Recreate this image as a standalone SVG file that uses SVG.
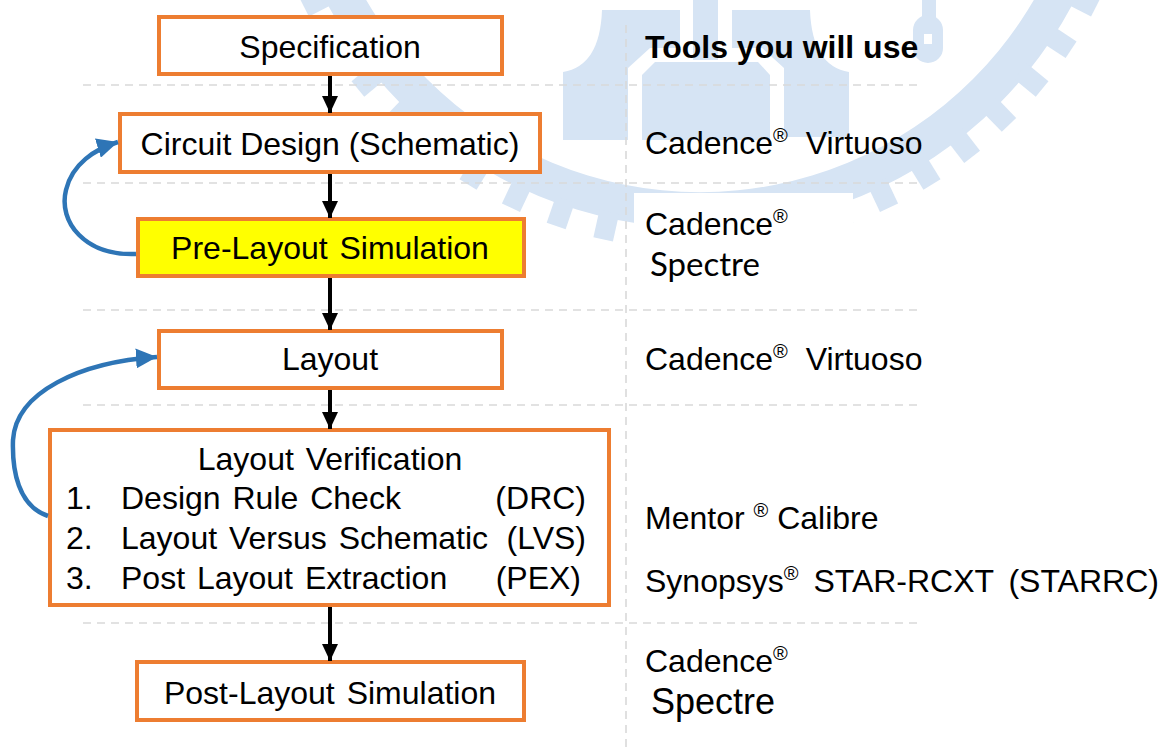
<svg xmlns="http://www.w3.org/2000/svg" width="1170" height="747" viewBox="0 0 1170 747">
  <defs>
    <style>
      .wm { fill: #d6e4f4; }
      .box { fill: #ffffff; stroke: #ed7d31; stroke-width: 4; }
      .hl { fill: #ffff00; stroke: #ed7d31; stroke-width: 4; }
      .t { font-family: "Liberation Sans", Arial, sans-serif; font-size: 32px; fill: #000; }
      .c { text-anchor: middle; }
      .ws { word-spacing: 3px; }
      .r { font-size: 20px; }
      .dash { stroke: #d9d9d9; stroke-width: 1.6; stroke-dasharray: 8 6; fill: none; }
      .flow { stroke: #000; stroke-width: 4; fill: none; }
      .fb { stroke: #2e75b6; stroke-width: 4.5; fill: none; }
    </style>
    <marker id="ah" markerUnits="userSpaceOnUse" markerWidth="18" markerHeight="16" refX="17" refY="8" orient="auto">
      <path d="M0,0 L17,8 L0,16 z" fill="#000"/>
    </marker>
    <marker id="bh" markerUnits="userSpaceOnUse" markerWidth="22" markerHeight="20" refX="21" refY="10" orient="auto">
      <path d="M0,0 L21,10 L0,20 z" fill="#2e75b6"/>
    </marker>
  </defs>
  <rect width="1170" height="747" fill="#ffffff"/>

  <!-- faint watermark logo -->
  <g id="watermark">
    <path class="wm" fill-rule="evenodd" d="M1122,-194 A422,422 0 1 1 278,-194 A422,422 0 1 1 1122,-194 Z M1086,-194 A386,386 0 1 0 314,-194 A386,386 0 1 0 1086,-194 Z"/>
    <g transform="translate(700,-194)">
      <rect class="wm" x="416" y="-10" width="28" height="20" transform="rotate(14.4)"/>
      <rect class="wm" x="416" y="-10" width="28" height="20" transform="rotate(20.7)"/>
      <rect class="wm" x="416" y="-10" width="28" height="20" transform="rotate(27)"/>
      <rect class="wm" x="416" y="-10" width="28" height="20" transform="rotate(33.3)"/>
      <rect class="wm" x="416" y="-10" width="28" height="20" transform="rotate(39.6)"/>
      <rect class="wm" x="416" y="-10" width="28" height="20" transform="rotate(45.9)"/>
      <rect class="wm" x="416" y="-10" width="28" height="20" transform="rotate(52.2)"/>
      <rect class="wm" x="416" y="-10" width="28" height="20" transform="rotate(58.5)"/>
      <rect class="wm" x="416" y="-10" width="28" height="20" transform="rotate(64.8)"/>
      <rect class="wm" x="416" y="-10" width="28" height="20" transform="rotate(71.1)"/>
      <rect class="wm" x="416" y="-10" width="28" height="20" transform="rotate(77.4)"/>
      <rect class="wm" x="416" y="-10" width="28" height="20" transform="rotate(83.7)"/>
      <rect class="wm" x="416" y="-10" width="28" height="20" transform="rotate(90)"/>
      <rect class="wm" x="416" y="-10" width="28" height="20" transform="rotate(96.3)"/>
      <rect class="wm" x="416" y="-10" width="28" height="20" transform="rotate(102.6)"/>
      <rect class="wm" x="416" y="-10" width="28" height="20" transform="rotate(108.9)"/>
      <rect class="wm" x="416" y="-10" width="28" height="20" transform="rotate(115.2)"/>
      <rect class="wm" x="416" y="-10" width="28" height="20" transform="rotate(121.5)"/>
      <rect class="wm" x="416" y="-10" width="28" height="20" transform="rotate(127.8)"/>
      <rect class="wm" x="416" y="-10" width="28" height="20" transform="rotate(134.1)"/>
      <rect class="wm" x="416" y="-10" width="28" height="20" transform="rotate(140.4)"/>
      <rect class="wm" x="416" y="-10" width="28" height="20" transform="rotate(146.7)"/>
      <rect class="wm" x="416" y="-10" width="28" height="20" transform="rotate(153)"/>
      <rect class="wm" x="416" y="-10" width="28" height="20" transform="rotate(159.3)"/>
      <rect class="wm" x="416" y="-10" width="28" height="20" transform="rotate(165.6)"/>
    </g>
    <path class="wm" d="M602,10 L680,10 L680,48 L650,48 L628,68 L628,140 L563,140 L563,72 Q600,66 602,10 Z"/>
    <path class="wm" d="M810,10 L732,10 L732,48 L762,48 L784,68 L784,137 L849,137 L849,72 Q812,66 810,10 Z"/>
    <rect class="wm" x="693" y="0" width="25" height="60"/>
    <path class="wm" d="M655,62 L758,62 L770,75 L770,140 L642,140 L642,75 Z"/>
    <rect class="wm" x="922" y="0" width="14" height="20"/>
    <path class="wm" fill-rule="evenodd" d="M913,30 A15,15 0 0 1 943,30 L943,48 A15,15 0 0 1 913,48 Z M924,34 L932,34 L932,44 L924,44 Z"/>
    <rect x="634" y="193" width="219" height="115" fill="#ffffff"/>
  </g>

  <!-- dashed guide lines -->
  <g id="guides">
    <line class="dash" x1="83" y1="85" x2="920" y2="85"/>
    <line class="dash" x1="83" y1="183" x2="920" y2="183"/>
    <line class="dash" x1="83" y1="310" x2="920" y2="310"/>
    <line class="dash" x1="83" y1="405" x2="920" y2="405"/>
    <line class="dash" x1="83" y1="623" x2="920" y2="623"/>
    <line class="dash" x1="626" y1="25" x2="626" y2="747"/>
  </g>

  <g id="spec">
    <rect class="box" x="159" y="17" width="343" height="57"/>
    <text class="t c" x="330" y="58">Specification</text>
  </g>
  <g id="circuit">
    <rect class="box" x="120" y="114" width="420" height="58"/>
    <text class="t c" x="330" y="155">Circuit Design (Schematic)</text>
  </g>
  <g id="prelayout">
    <rect class="hl" x="138" y="219" width="386" height="57"/>
    <text class="t c ws" x="330" y="259">Pre-Layout Simulation</text>
  </g>
  <g id="layout">
    <rect class="box" x="159" y="331" width="343" height="57"/>
    <text class="t c" x="330" y="370">Layout</text>
  </g>
  <g id="verification">
    <rect class="box" x="50" y="430" width="559" height="175"/>
    <text class="t c ws" x="330" y="470">Layout Verification</text>
    <text class="t" x="66" y="509">1.</text>
    <text class="t ws" x="121" y="509">Design Rule Check</text>
    <text class="t" x="586" y="509" text-anchor="end">(DRC)</text>
    <text class="t" x="66" y="549">2.</text>
    <text class="t ws" x="121" y="549">Layout Versus Schematic</text>
    <text class="t" x="586" y="549" text-anchor="end">(LVS)</text>
    <text class="t" x="66" y="589">3.</text>
    <text class="t ws" x="121" y="589">Post Layout Extraction</text>
    <text class="t" x="581" y="589" text-anchor="end">(PEX)</text>
  </g>
  <g id="postlayout">
    <rect class="box" x="137" y="662" width="387" height="58"/>
    <text class="t c ws" x="330" y="704">Post-Layout Simulation</text>
  </g>

  <g id="tools">
    <text class="t" x="645" y="58" font-weight="bold">Tools you will use</text>
    <text class="t" x="645" y="154">Cadence<tspan class="r" dy="-12">®</tspan><tspan dy="12" xml:space="preserve">  Virtuoso</tspan></text>
    <text class="t" x="645" y="235">Cadence<tspan class="r" dy="-12">®</tspan></text>
    <text class="t" x="650" y="276" style="font-family: Lato, 'Open Sans', sans-serif; font-size: 33px;">Spectre</text>
    <text class="t" x="645" y="370">Cadence<tspan class="r" dy="-12">®</tspan><tspan dy="12" xml:space="preserve">  Virtuoso</tspan></text>
    <text class="t" x="645" y="529">Mentor <tspan class="r" dy="-12">®</tspan><tspan dy="12"> Calibre</tspan></text>
    <text class="t" x="645" y="592" style="word-spacing: 6px;">Synopsys<tspan class="r" dy="-12">®</tspan><tspan dy="12"> STAR-RCXT (STARRC)</tspan></text>
    <text class="t" x="645" y="672">Cadence<tspan class="r" dy="-12">®</tspan></text>
    <text class="t" x="651" y="714" style="font-size: 36px;">Spectre</text>
  </g>

  <g id="connectors">
    <line class="flow" x1="330" y1="76" x2="330" y2="113" marker-end="url(#ah)"/>
    <line class="flow" x1="330" y1="174" x2="330" y2="218" marker-end="url(#ah)"/>
    <line class="flow" x1="330" y1="278" x2="330" y2="330" marker-end="url(#ah)"/>
    <line class="flow" x1="330" y1="390" x2="330" y2="429" marker-end="url(#ah)"/>
    <line class="flow" x1="330" y1="607" x2="330" y2="661" marker-end="url(#ah)"/>
    <path class="fb" d="M136,254 C 85,256 58,222 66,190 C 72,164 95,149 118,142" marker-end="url(#bh)"/>
    <path class="fb" d="M48,516 C 18,506 12,470 13,440 C 16,392 80,362 157,357" marker-end="url(#bh)"/>
  </g>
</svg>
